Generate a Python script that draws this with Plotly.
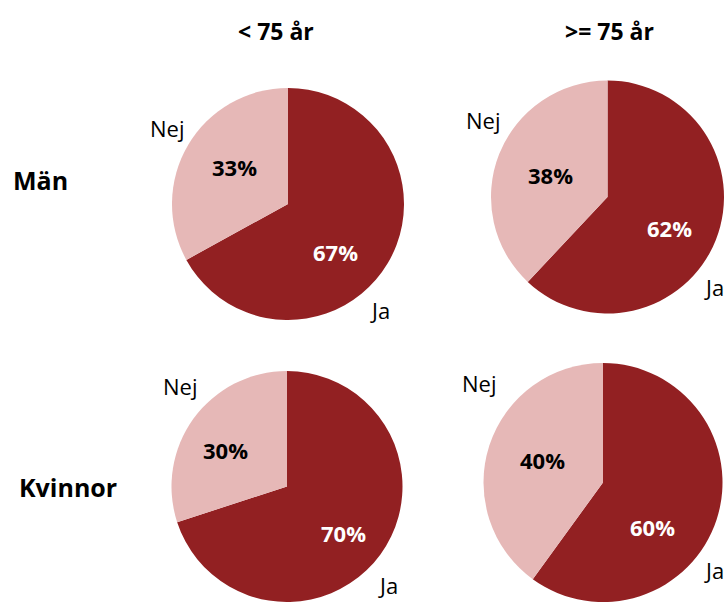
import plotly.graph_objects as go

age_groups = ["< 75 år", ">= 75 år"]
sexes = ["Män", "Kvinnor"]
answers = ["Ja", "Nej"]

man_ja = [67, 62]
man_nej = [33, 38]
kvinna_ja = [70, 60]
kvinna_nej = [30, 40]

DARK = "#922022"
LIGHT = "#E6B8B7"
FONT = "Open Sans"
W, H = 724, 602

# pie placement in pixels (center x, center y, radius), row = sex, col = age group
pie_px = [
    [(288, 204, 116), (608, 197, 117)],
    [(287, 489, 118), (603, 483, 120)],
]
# label positions in pixels: (Ja x, Ja y, Nej x, Nej y)
label_px = [
    [(380, 310, 167, 128), (714, 287, 483, 120)],
    [(388, 585, 180, 386), (714, 570, 479, 383)],
]
# percent label positions in pixels: (Ja x, Ja y, Nej x, Nej y)
pct_px = [
    [(335, 252, 234, 167), (669, 228, 550, 175)],
    [(343, 533, 226, 450), (652, 527, 542, 460)],
]


def px_x(x):
    return x / W


def px_y(y):
    return 1 - y / H


def label(txt, x, y, size, color="black"):
    return dict(
        text=txt,
        x=px_x(x),
        y=px_y(y),
        xref="paper",
        yref="paper",
        xanchor="center",
        yanchor="middle",
        showarrow=False,
        font=dict(family=FONT, size=size, color=color),
    )


fig = go.Figure()
annotations = []

rows = [(man_ja, man_nej), (kvinna_ja, kvinna_nej)]
for r, (ja, nej) in enumerate(rows):
    for c in range(len(age_groups)):
        cx, cy, rad = pie_px[r][c]
        x0 = max(0, px_x(cx - rad))
        x1 = min(1, px_x(cx + rad))
        y0 = max(0, px_y(cy + rad))
        y1 = min(1, px_y(cy - rad))
        vals = [ja[c], nej[c]]
        fig.add_trace(
            go.Pie(
                labels=answers,
                values=vals,
                sort=False,
                direction="clockwise",
                rotation=0,
                marker=dict(colors=[DARK, LIGHT], line=dict(width=0)),
                textinfo="none",
                domain=dict(x=[x0, x1], y=[y0, y1]),
                hoverinfo="label+percent",
                showlegend=False,
            )
        )
        jx, jy, nx, ny = label_px[r][c]
        annotations.append(label(answers[0], jx, jy, 22))
        annotations.append(label(answers[1], nx, ny, 22))
        tot = sum(vals)
        px1, py1, px2, py2 = pct_px[r][c]
        annotations.append(label(f"<b>{round(100 * vals[0] / tot)}%</b>", px1, py1, 22, "white"))
        annotations.append(label(f"<b>{round(100 * vals[1] / tot)}%</b>", px2, py2, 22))

# column titles
for txt, x in zip(age_groups, [276, 609]):
    annotations.append(label(f"<b>{txt}</b>", x, 31, 23))

# row labels
for txt, x, y in zip(sexes, [40, 68], [180, 487]):
    annotations.append(label(f"<b>{txt}</b>", x, y, 25))

fig.update_layout(
    width=W,
    height=H,
    margin=dict(l=0, r=0, t=0, b=0),
    paper_bgcolor="white",
    plot_bgcolor="white",
    annotations=annotations,
)

fig.write_html(
    "out.html",
    config={"displayModeBar": False},
    post_script="document.body.style.margin='0';document.body.style.overflow='hidden';",
)
